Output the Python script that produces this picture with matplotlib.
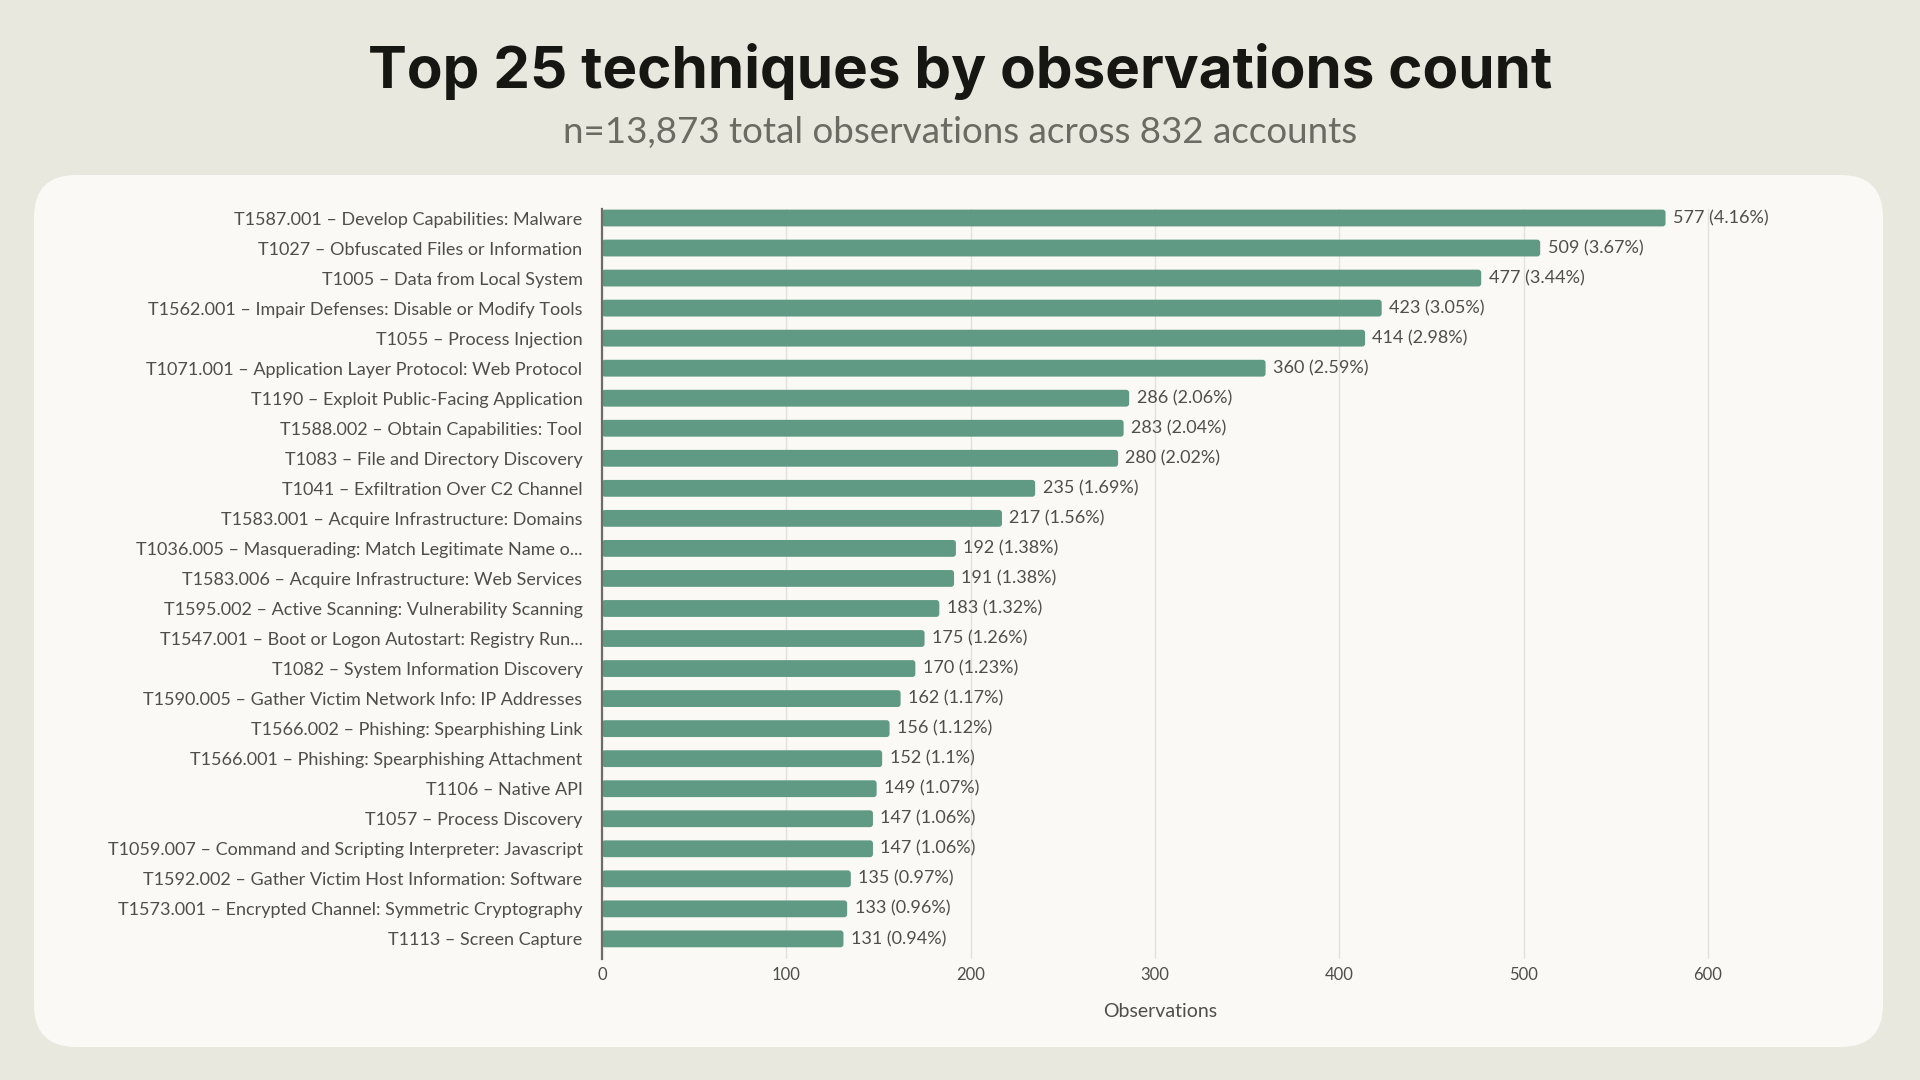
import matplotlib
matplotlib.use("Agg")
import matplotlib.pyplot as plt
from matplotlib.patches import FancyBboxPatch

# data (top to bottom)
techniques = [
    "T1587.001 – Develop Capabilities: Malware",
    "T1027 – Obfuscated Files or Information",
    "T1005 – Data from Local System",
    "T1562.001 – Impair Defenses: Disable or Modify Tools",
    "T1055 – Process Injection",
    "T1071.001 – Application Layer Protocol: Web Protocol",
    "T1190 – Exploit Public-Facing Application",
    "T1588.002 – Obtain Capabilities: Tool",
    "T1083 – File and Directory Discovery",
    "T1041 – Exfiltration Over C2 Channel",
    "T1583.001 – Acquire Infrastructure: Domains",
    "T1036.005 – Masquerading: Match Legitimate Name o...",
    "T1583.006 – Acquire Infrastructure: Web Services",
    "T1595.002 – Active Scanning: Vulnerability Scanning",
    "T1547.001 – Boot or Logon Autostart: Registry Run...",
    "T1082 – System Information Discovery",
    "T1590.005 – Gather Victim Network Info: IP Addresses",
    "T1566.002 – Phishing: Spearphishing Link",
    "T1566.001 – Phishing: Spearphishing Attachment",
    "T1106 – Native API",
    "T1057 – Process Discovery",
    "T1059.007 – Command and Scripting Interpreter: Javascript",
    "T1592.002 – Gather Victim Host Information: Software",
    "T1573.001 – Encrypted Channel: Symmetric Cryptography",
    "T1113 – Screen Capture",
]
counts = [577, 509, 477, 423, 414, 360, 286, 283, 280, 235, 217, 192, 191,
          183, 175, 170, 162, 156, 152, 149, 147, 147, 135, 133, 131]
shares = ["4.16%", "3.67%", "3.44%", "3.05%", "2.98%", "2.59%", "2.06%",
          "2.04%", "2.02%", "1.69%", "1.56%", "1.38%", "1.38%", "1.32%",
          "1.26%", "1.23%", "1.17%", "1.12%", "1.1%", "1.07%", "1.06%",
          "1.06%", "0.97%", "0.96%", "0.94%"]

BG = "#e9e8df"
CARD = "#faf9f5"
BAR = "#609a84"
TEXT = "#4f4f4a"
DARK = "#161613"

plt.rcParams["font.family"] = ["Lato", "DejaVu Sans"]

fig = plt.figure(figsize=(19.2, 10.8), dpi=100, facecolor=BG)

# white card behind the plot
card = FancyBboxPatch((34 / 1920, 1 - 1047 / 1080), (1883 - 34) / 1920,
                      (1047 - 175) / 1080,
                      boxstyle="round,pad=0,rounding_size=0.022",
                      mutation_aspect=1920 / 1080,
                      transform=fig.transFigure, facecolor=CARD,
                      edgecolor="none", zorder=-5)
fig.patches.append(card)

fig.text(0.5, 1 - 71 / 1080, "Top 25 techniques by observations count",
         ha="center", va="center", fontsize=42, fontweight="bold",
         color=DARK, family=["Inter", "DejaVu Sans"])
fig.text(0.5, 1 - 132 / 1080, "n=13,873 total observations across 832 accounts",
         ha="center", va="center", fontsize=26.5, color="#6b6b63")

# axes box: y from 209px to 959px, x from 602px to 1719px
ax = fig.add_axes([602 / 1920, 1 - 959 / 1080, (1719 - 602) / 1920,
                   (959 - 209) / 1080])
ax.set_facecolor("none")
ax.set_zorder(2)

ypos = list(range(len(techniques)))
bars = ax.barh(ypos, counts, height=0.56, color=BAR)
ax.set_xlim(0, 606)
ax.set_ylim(len(techniques) - 0.33, -0.3)

# swap rectangles for rounded ones
px_x = 1117 / 606
px_y = 750 / 24.97
for b in bars:
    b.set_visible(False)
    r = FancyBboxPatch((b.get_x(), b.get_y()), b.get_width(), b.get_height(),
                       boxstyle="round,pad=0,rounding_size=%f" % (3 / px_x),
                       mutation_aspect=px_x / px_y,
                       facecolor=BAR, edgecolor="none", zorder=3)
    ax.add_patch(r)

for y, c, s in zip(ypos, counts, shares):
    ax.text(c + 4, y, f"{c} ({s})", va="center", ha="left", fontsize=13,
            color=TEXT, clip_on=False)

ax.set_yticks(ypos)
ax.set_yticklabels(techniques, fontsize=13, color=TEXT)
ax.set_xticks([0, 100, 200, 300, 400, 500, 600])
ax.tick_params(axis="x", labelsize=12, labelcolor=TEXT, length=0, pad=6)
ax.tick_params(axis="y", length=0, pad=14)
ax.set_xlabel("Observations", fontsize=14, color=TEXT, labelpad=14)

ax.grid(axis="x", color="#e2e1da", linewidth=1)
ax.set_axisbelow(True)
for side in ["top", "right", "bottom"]:
    ax.spines[side].set_visible(False)
ax.spines["left"].set_color("#6d6d66")
ax.spines["left"].set_linewidth(1.6)
ax.spines["left"].set_zorder(4)

fig.savefig("out.png", dpi=100, facecolor=BG)
